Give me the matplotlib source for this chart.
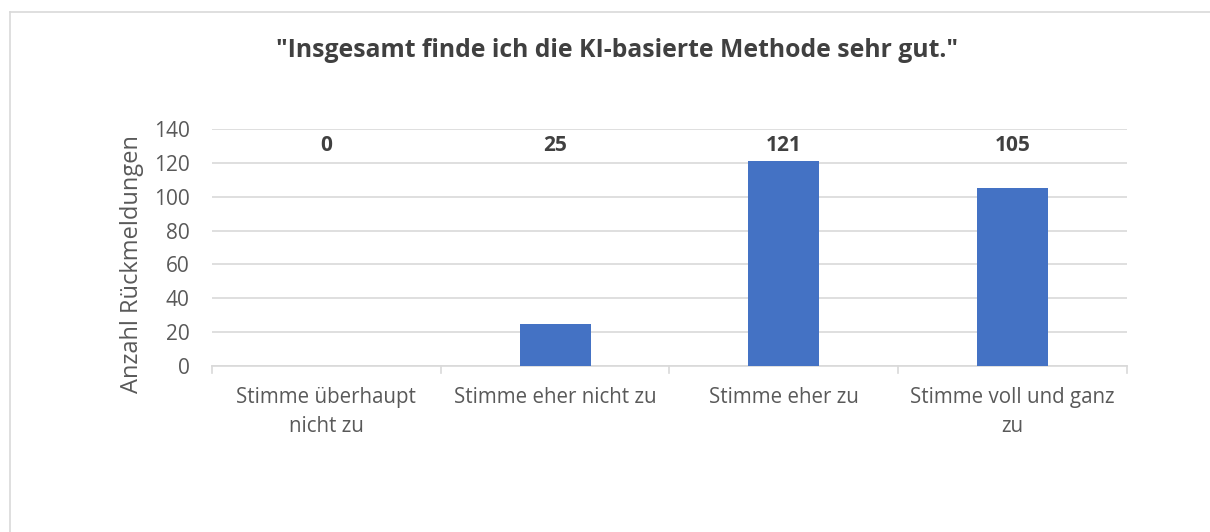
import matplotlib
matplotlib.use("Agg")
import matplotlib.pyplot as plt
import numpy as np

# data
categories = ["Stimme überhaupt\nnicht zu", "Stimme eher nicht zu",
              "Stimme eher zu", "Stimme voll und ganz\nzu"]
counts = [0, 25, 121, 105]
yticks = [0, 20, 40, 60, 80, 100, 120, 140]

title = '"Insgesamt finde ich die KI-basierte Methode sehr gut."'
ylabel = "Anzahl Rückmeldungen"

plt.rcParams['font.family'] = ['Open Sans', 'DejaVu Sans']
grey = "#595959"

fig = plt.figure(figsize=(12.1, 5.32), dpi=100)
ax = fig.add_axes([0.1752, 0.312, 0.7562, 0.4455])

x = np.arange(len(categories))
ax.bar(x, counts, width=0.31, color="#4472C4", zorder=3)

# value labels sit in a row near the top of the plot
for xi, v in zip(x, counts):
    ax.text(xi, 130.5, str(v), ha='center', va='center', fontsize=15,
            fontweight='bold', color="#404040")

ax.set_xlim(-0.5, len(categories) - 0.5)
ax.set_ylim(0, 140)
ax.set_yticks(yticks)
ax.set_yticklabels([str(t) for t in yticks], fontsize=15, color=grey)
ax.set_xticks(x)
ax.set_xticklabels(categories, fontsize=14.8, color=grey, linespacing=1.5)
ax.tick_params(axis='y', length=0, pad=16)
ax.tick_params(axis='x', length=0, pad=15)

# category separator ticks like Excel
for b in np.arange(-0.5, len(categories), 1.0):
    ax.plot([b, b], [0, -4], color="#D9D9D9", lw=1.2, clip_on=False, zorder=2)

ax.grid(axis='y', color="#D9D9D9", lw=1.2, zorder=0)
for s in ['top', 'right', 'left']:
    ax.spines[s].set_visible(False)
ax.spines['bottom'].set_color("#D9D9D9")
ax.spines['bottom'].set_linewidth(1.2)

ax.set_ylabel(ylabel, fontsize=17, color=grey)
ax.yaxis.set_label_coords(-0.074, 0.43)

fig.text(0.51, 0.905, title, ha='center', va='center', fontsize=17.8,
         fontweight='bold', color="#404040")

# cropped chart border (only top and left visible)
fig.add_artist(plt.Line2D([9.5 / 1210, 1], [1 - 12 / 532, 1 - 12 / 532],
                          color="#D9D9D9", lw=1.2))
fig.add_artist(plt.Line2D([9.5 / 1210, 9.5 / 1210], [0, 1 - 12 / 532],
                          color="#D9D9D9", lw=1.2))

fig.savefig("out.png", dpi=100)
